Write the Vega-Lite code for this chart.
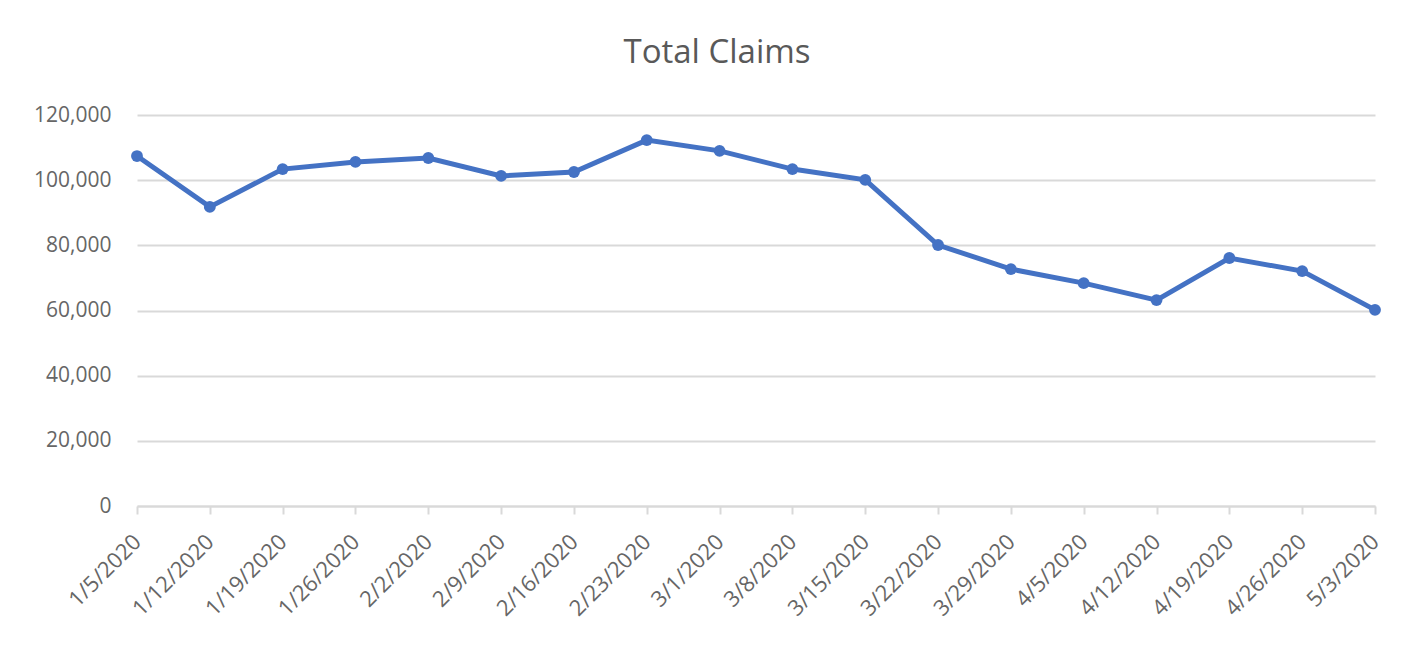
{
  "$schema": "https://vega.github.io/schema/vega-lite/v6.json",
  "width": 1238,
  "height": 391,
  "autosize": {"type": "none"},
  "padding": {"left": 137, "top": 115, "right": 28, "bottom": 139},
  "background": "white",
  "title": {
    "text": "Total Claims",
    "anchor": "middle",
    "frame": "group",
    "dx": -39,
    "fontSize": 33,
    "font": "Open Sans",
    "fontWeight": "normal",
    "color": "#595959",
    "offset": 34
  },
  "data": {
    "values": [
      {"week": "1/5/2020", "claims": 107400},
      {"week": "1/12/2020", "claims": 91800},
      {"week": "1/19/2020", "claims": 103400},
      {"week": "1/26/2020", "claims": 105600},
      {"week": "2/2/2020", "claims": 106800},
      {"week": "2/9/2020", "claims": 101300},
      {"week": "2/16/2020", "claims": 102500},
      {"week": "2/23/2020", "claims": 112300},
      {"week": "3/1/2020", "claims": 109000},
      {"week": "3/8/2020", "claims": 103400},
      {"week": "3/15/2020", "claims": 100100},
      {"week": "3/22/2020", "claims": 80100},
      {"week": "3/29/2020", "claims": 72700},
      {"week": "4/5/2020", "claims": 68400},
      {"week": "4/12/2020", "claims": 63200},
      {"week": "4/19/2020", "claims": 76100},
      {"week": "4/26/2020", "claims": 72100},
      {"week": "5/3/2020", "claims": 60200}
    ]
  },
  "mark": {
    "type": "line",
    "color": "#4472C4",
    "strokeWidth": 5,
    "point": {"filled": true, "size": 140, "color": "#4472C4"}
  },
  "encoding": {
    "x": {
      "field": "week",
      "type": "ordinal",
      "sort": null,
      "scale": {"type": "point", "padding": 0},
      "axis": {
        "title": null,
        "labelAngle": -45,
        "labelAlign": "right",
        "labelBaseline": "middle",
        "labelFontSize": 22,
        "labelFont": "Open Sans",
        "labelColor": "#666666",
        "labelPadding": 24,
        "labelDx": 8,
        "domainColor": "#d9d9d9",
        "domainWidth": 2,
        "tickColor": "#d9d9d9",
        "tickWidth": 2,
        "tickSize": 8,
        "grid": false
      }
    },
    "y": {
      "field": "claims",
      "type": "quantitative",
      "scale": {"domain": [0, 120000]},
      "axis": {
        "title": null,
        "values": [0, 20000, 40000, 60000, 80000, 100000, 120000],
        "format": ",.0f",
        "labelFontSize": 21,
        "labelFont": "Open Sans",
        "labelColor": "#666666",
        "labelPadding": 26,
        "domain": false,
        "ticks": false,
        "gridColor": "#d9d9d9",
        "gridWidth": 2
      }
    }
  },
  "config": {
    "view": {"stroke": null}
  }
}
